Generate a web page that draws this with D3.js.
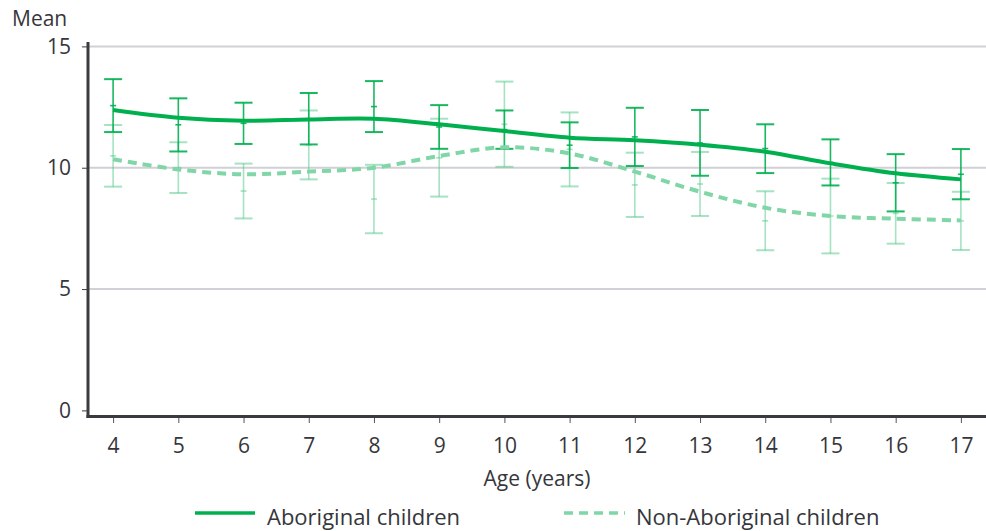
<!DOCTYPE html>
<html>
<head>
<meta charset="utf-8">
<script src="https://cdn.jsdelivr.net/npm/d3@7"></script>
<style>
  html, body { margin: 0; padding: 0; background: #fff; }
  svg { display: block; font-family: "Open Sans", "Noto Sans", sans-serif; }
</style>
</head>
<body>
<svg id="chart" width="986" height="531"></svg>
<script>
// Age groups (years)
const ages = [4, 5, 6, 7, 8, 9, 10, 11, 12, 13, 14, 15, 16, 17];

// Aboriginal children: mean with 95% confidence limits
const abMean  = [12.56, 11.77, 11.83, 12.02, 12.52, 11.68, 11.57, 10.93, 11.27, 11.02, 10.79, 10.22, 9.38, 9.73];
const abLower = [11.47, 10.67, 10.98, 10.96, 11.47, 10.78, 10.78, 9.99, 10.07, 9.67, 9.78, 9.27, 8.20, 8.70];
const abUpper = [13.65, 12.86, 12.68, 13.08, 13.57, 12.58, 12.36, 11.87, 12.47, 12.38, 11.79, 11.17, 10.56, 10.77];
// Aboriginal children: smoothed trend
const abTrend = [12.38, 12.06, 11.94, 11.99, 12.02, 11.79, 11.51, 11.24, 11.13, 10.95, 10.66, 10.18, 9.77, 9.52];

// Non-Aboriginal children: mean with 95% confidence limits
const nonMean  = [10.49, 10.00, 9.04, 10.94, 8.71, 10.41, 11.79, 10.76, 9.29, 9.33, 7.81, 8.01, 8.12, 7.81];
const nonLower = [9.22, 8.96, 7.91, 9.52, 7.30, 8.81, 10.04, 9.23, 7.97, 8.01, 6.60, 6.47, 6.87, 6.61];
const nonUpper = [11.76, 11.05, 10.17, 12.36, 10.12, 12.02, 13.55, 12.28, 10.62, 10.65, 9.03, 9.55, 9.37, 9.01];
// Non-Aboriginal children: smoothed trend
const nonTrend = [10.35, 9.93, 9.73, 9.84, 10.00, 10.48, 10.84, 10.59, 9.84, 9.01, 8.35, 8.01, 7.90, 7.83];

const yTicks = [0, 5, 10, 15];
const seriesNames = ["Aboriginal children", "Non-Aboriginal children"];

const textColor = "#36363b";
const axisColor = "#3a3a40";
const gridColor = "#d0d0d6";
const abColor = "#00b04f";
const nonColor = "#80d6a7";

const svg = d3.select("#chart");

const x = d3.scalePoint().domain(ages).range([88, 986]).padding(0.385);
const y = d3.scaleLinear().domain([0, 15]).range([410.4, 46.4]);

// Horizontal gridlines
svg.append("g").selectAll("line")
  .data(yTicks.filter(d => d > 0))
  .join("line")
  .attr("x1", 88).attr("x2", 986)
  .attr("y1", d => y(d)).attr("y2", d => y(d))
  .attr("stroke", gridColor).attr("stroke-width", 2);

// Y axis
const yAxis = svg.append("g")
  .attr("transform", "translate(88,0)")
  .call(d3.axisLeft(y).tickValues(yTicks).tickSize(6).tickPadding(11).tickFormat(d3.format("d")));
yAxis.select(".domain").remove();
yAxis.selectAll(".tick line").attr("stroke", axisColor).attr("stroke-width", 1);
yAxis.selectAll(".tick text")
  .attr("fill", textColor).attr("font-size", 21)
  .attr("font-family", "'Open Sans', sans-serif");

svg.append("line")
  .attr("x1", 88).attr("x2", 88).attr("y1", 42).attr("y2", 418)
  .attr("stroke", axisColor).attr("stroke-width", 3);

// X axis
const xAxis = svg.append("g")
  .attr("transform", "translate(0,417)")
  .call(d3.axisBottom(x).tickSize(6).tickPadding(15));
xAxis.select(".domain").remove();
xAxis.selectAll(".tick line").attr("stroke", "#55555a").attr("stroke-width", 1);
xAxis.selectAll(".tick text")
  .attr("fill", textColor).attr("font-size", 21)
  .attr("font-family", "'Open Sans', sans-serif");

svg.append("line")
  .attr("x1", 86.5).attr("x2", 986).attr("y1", 416.5).attr("y2", 416.5)
  .attr("stroke", axisColor).attr("stroke-width", 3);

// Axis titles
svg.append("text")
  .attr("x", 12).attr("y", 26)
  .attr("fill", textColor).attr("font-size", 21)
  .text("Mean");
svg.append("text")
  .attr("x", 537).attr("y", 486).attr("text-anchor", "middle")
  .attr("fill", textColor).attr("font-size", 21)
  .text("Age (years)");

// Error bars with a short mean tick
function errorBars(mean, lower, upper, color, opacity) {
  const g = svg.append("g").attr("stroke", color).attr("stroke-opacity", opacity).attr("stroke-width", 1.6);
  ages.forEach((a, i) => {
    const cx = x(a);
    g.append("line").attr("x1", cx).attr("x2", cx).attr("y1", y(upper[i])).attr("y2", y(lower[i]));
    g.append("line").attr("x1", cx - 9).attr("x2", cx + 9).attr("y1", y(upper[i])).attr("y2", y(upper[i])).attr("stroke-width", 2);
    g.append("line").attr("x1", cx - 9).attr("x2", cx + 9).attr("y1", y(lower[i])).attr("y2", y(lower[i])).attr("stroke-width", 2);
    g.append("line").attr("x1", cx - 3).attr("x2", cx + 3).attr("y1", y(mean[i])).attr("y2", y(mean[i]));
  });
}
errorBars(nonMean, nonLower, nonUpper, "#4cc785", 0.5);
errorBars(abMean, abLower, abUpper, abColor, 0.9);

// Smoothed trend lines
const line = d3.line()
  .x((d, i) => x(ages[i]))
  .y(d => y(d))
  .curve(d3.curveCatmullRom.alpha(0.5));

svg.append("path").datum(nonTrend)
  .attr("d", line).attr("fill", "none")
  .attr("stroke", nonColor).attr("stroke-width", 4)
  .attr("stroke-dasharray", "9,6");

svg.append("path").datum(abTrend)
  .attr("d", line).attr("fill", "none")
  .attr("stroke", abColor).attr("stroke-width", 4);

// Legend
const legend = svg.append("g");
const legendItems = [
  { name: seriesNames[0], x1: 195, x2: 255, tx: 267, color: abColor, dash: null },
  { name: seriesNames[1], x1: 564, x2: 625, tx: 636, color: nonColor, dash: "9,6" }
];
legendItems.forEach(item => {
  legend.append("line")
    .attr("x1", item.x1).attr("x2", item.x2).attr("y1", 513).attr("y2", 513)
    .attr("stroke", item.color).attr("stroke-width", 3.5)
    .attr("stroke-dasharray", item.dash);
  legend.append("text")
    .attr("x", item.tx).attr("y", 525)
    .attr("fill", textColor).attr("font-size", 22)
    .text(item.name);
});
</script>
</body>
</html>
